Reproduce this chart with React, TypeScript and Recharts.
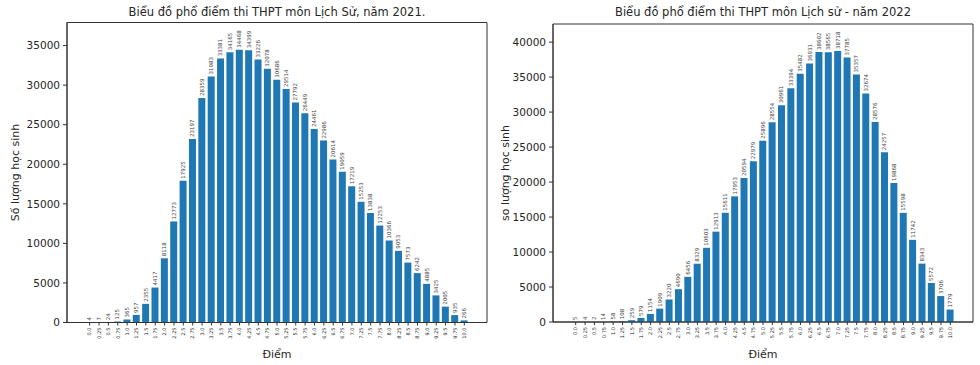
import { BarChart, Bar, XAxis, YAxis, LabelList, CartesianGrid } from 'recharts';

// score buckets (shared by both years)
const scores = [
  '0.0', '0.25', '0.5', '0.75', '1.0', '1.25', '1.5', '1.75', '2.0', '2.25',
  '2.5', '2.75', '3.0', '3.25', '3.5', '3.75', '4.0', '4.25', '4.5', '4.75',
  '5.0', '5.25', '5.5', '5.75', '6.0', '6.25', '6.5', '6.75', '7.0', '7.25',
  '7.5', '7.75', '8.0', '8.25', '8.5', '8.75', '9.0', '9.25', '9.5', '9.75', '10.0'
];

const counts2021 = [
  4, 7, 24, 125, 365, 957, 2355, 4417, 8118, 12773,
  17925, 23197, 28359, 31083, 33381, 34165, 34468, 34399, 33226, 32078,
  30686, 29514, 27792, 26449, 24461, 22986, 20614, 19059, 17219, 15253,
  13838, 12253, 10366, 9053, 7573, 6242, 4885, 3425, 2005, 935, 266
];

const counts2022 = [
  5, 4, 2, 14, 58, 108, 259, 579, 1154, 1909,
  3220, 4690, 6456, 8329, 10603, 12913, 15611, 17953, 20594, 22979,
  25896, 28554, 30961, 33394, 35482, 36931, 38602, 38565, 38718, 37785,
  35357, 32674, 28576, 24257, 19868, 15598, 11742, 8343, 5572, 3706, 1779
];

const ticks2021 = [0, 5000, 10000, 15000, 20000, 25000, 30000, 35000];
const ticks2022 = [0, 5000, 10000, 15000, 20000, 25000, 30000, 35000, 40000];

const FONT = '"DejaVu Sans", sans-serif';
const BLUE = '#1f77b4';
const INK = '#262626';
const SPINE = '#333';

const XTick = (props: any) => {
  const { x, y, payload } = props;
  return (
    <g transform={`translate(${x},${y})`}>
      <text transform="rotate(-90)" x={0} y={0} dy="0.35em" textAnchor="end"
        fontSize={5} fill={INK} fontFamily={FONT}>{payload.value}</text>
    </g>
  );
};

const BarValue = (props: any) => {
  const { x, y, width, value } = props;
  return (
    <text transform={`translate(${x + width / 2},${y - 2}) rotate(-90)`} x={0} y={0}
      dy="0.35em" textAnchor="start" fontSize={5.5} fill="#444" fontFamily={FONT}>{value}</text>
  );
};

// box around the plot area, like matplotlib's four spines
const frameRows = ({ offset }: any) => [offset.top, offset.top + offset.height];
const frameCols = ({ offset }: any) => [offset.left, offset.left + offset.width];

interface PanelProps {
  counts: number[];
  yMax: number;
  yTicks: number[];
  title: string;
  yLabel: string;
  top: number;
  axisW: number;
  right: number;
}

const Panel = ({ counts, yMax, yTicks, title, yLabel, top, axisW, right }: PanelProps) => {
  const data = scores.map((s, i) => ({ score: s, count: counts[i] }));
  const plotCenter = axisW + (490 - axisW - right) / 2;
  const plotH = top === 24 ? 298 : 300;
  return (
    <div style={{ position: 'relative', width: 490, height: 365 }}>
      <div style={{
        position: 'absolute', left: plotCenter - 245, width: 490, top: 4, textAlign: 'center',
        fontFamily: FONT, fontSize: 11.5, lineHeight: '16px', color: INK
      }}>{title}</div>
      <BarChart width={490} height={365} data={data}
        margin={{ top, right, bottom: 0, left: 0 }} barCategoryGap="10%">
        <CartesianGrid stroke={SPINE} strokeWidth={1}
          horizontalCoordinatesGenerator={frameRows} verticalCoordinatesGenerator={frameCols} />
        <XAxis dataKey="score" height={365 - top - plotH} interval={0}
          padding={{ left: 18, right: 18 }} tick={<XTick />} tickSize={3} tickMargin={2}
          stroke={SPINE} tickLine={{ stroke: SPINE }}
          label={{ value: 'Điểm', position: 'insideBottom', offset: 7, fill: INK, fontSize: 11, fontFamily: FONT }} />
        <YAxis width={axisW} domain={[0, yMax]} ticks={yTicks} interval={0} tickSize={4} tickMargin={3}
          stroke={SPINE} tick={{ fill: INK, fontSize: 10.5, fontFamily: FONT }}
          label={{ value: yLabel, angle: -90, position: 'insideLeft', offset: 15, fill: INK, fontSize: 11, fontFamily: FONT, style: { textAnchor: 'middle' } }} />
        <Bar dataKey="count" fill={BLUE} isAnimationActive={false}>
          <LabelList dataKey="count" content={<BarValue />} />
        </Bar>
      </BarChart>
    </div>
  );
};

export default function App() {
  return (
    <div style={{ position: 'absolute', left: 0, top: 0, width: 980, height: 365, background: '#fff', display: 'flex' }}>
      <Panel counts={counts2021} yMax={37915} yTicks={ticks2021}
        title="Biểu đồ phổ điểm thi THPT môn Lịch Sử, năm 2021."
        yLabel="Số lượng học sinh" top={22.5} axisW={67} right={3} />
      <Panel counts={counts2022} yMax={42590} yTicks={ticks2022}
        title="Biểu đồ phổ điểm thi THPT môn Lịch sử - năm 2022"
        yLabel="so lượng học sinh" top={24} axisW={63} right={7} />
    </div>
  );
}
